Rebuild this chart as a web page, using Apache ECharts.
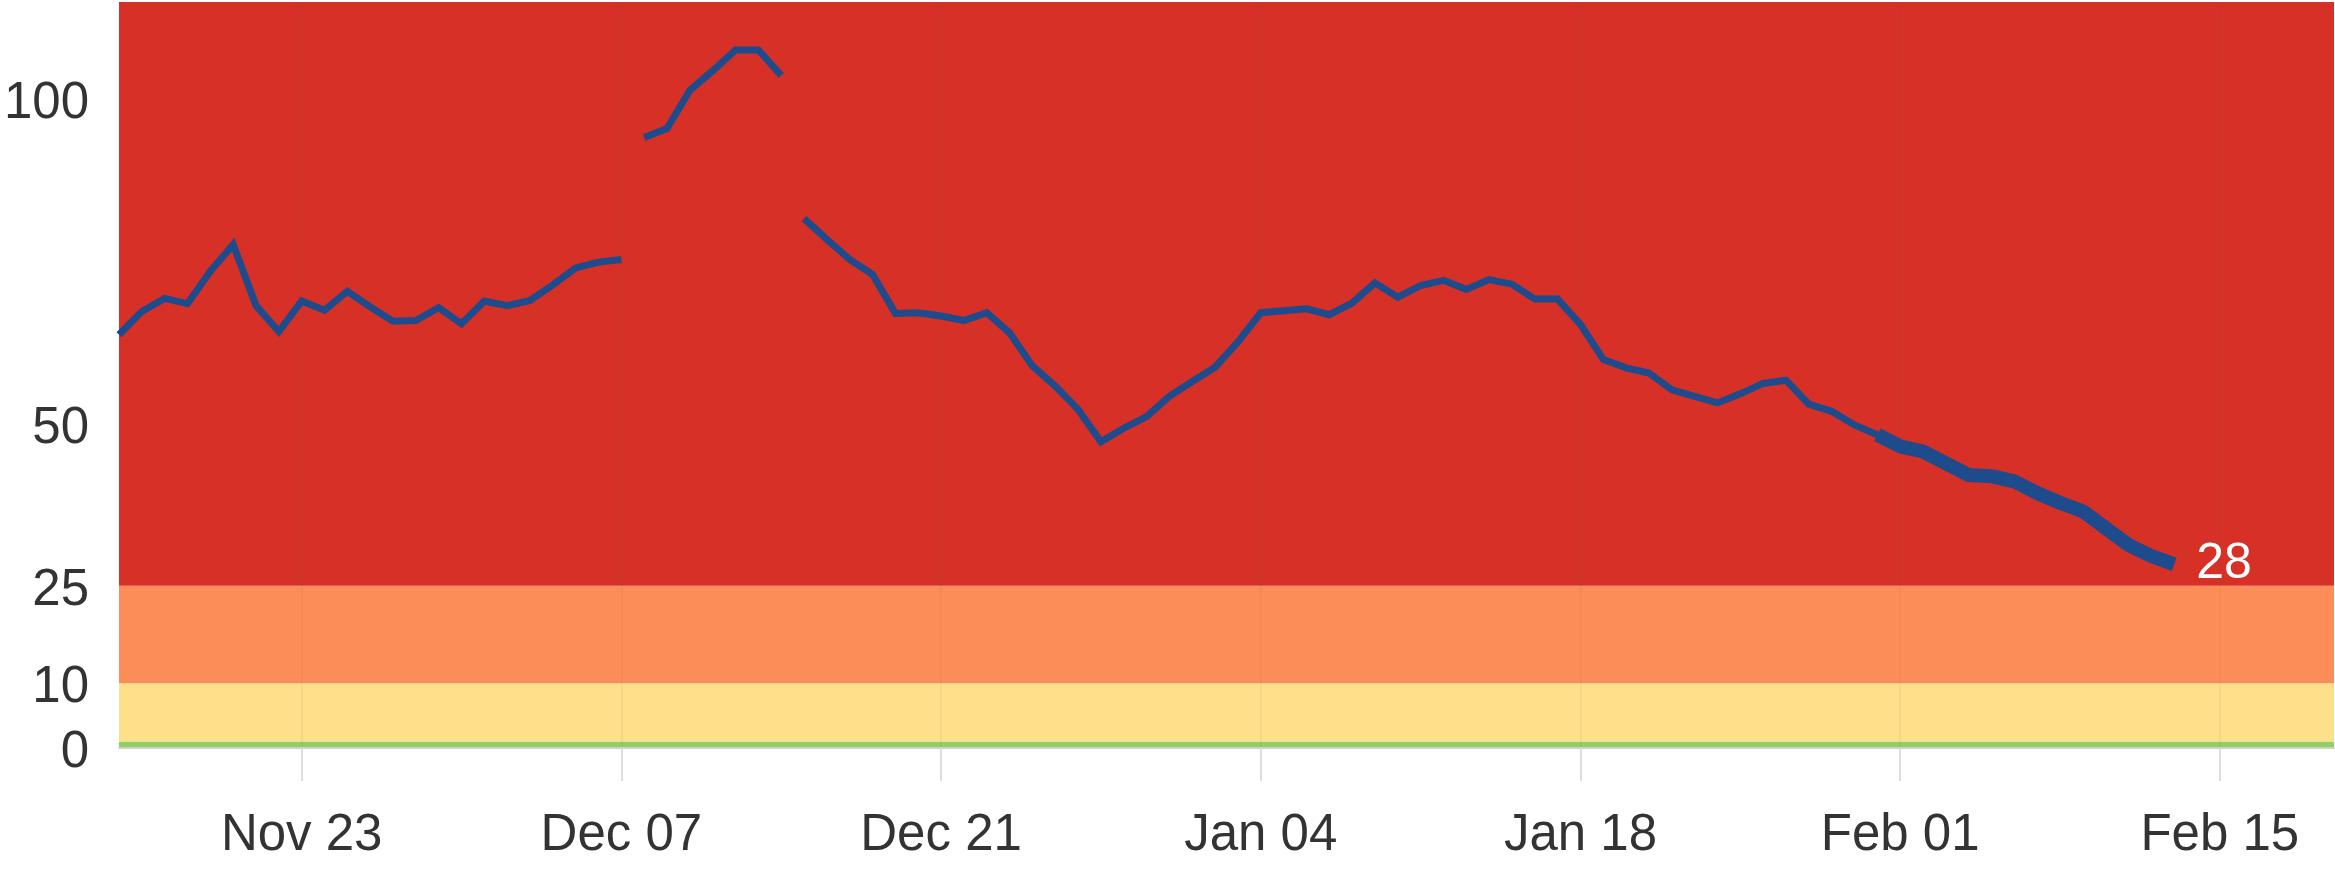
<!DOCTYPE html>
<html>
<head>
<meta charset="utf-8">
<script src="https://cdn.jsdelivr.net/npm/echarts@6/dist/echarts.min.js"></script>
<style>
  html, body { margin: 0; padding: 0; background: #fff; }
  #chart { width: 2335px; height: 876px; }
</style>
</head>
<body>
<div id="chart"></div>
<script>
// daily axis, Nov 15 -> Feb 20
var firstDay = Date.UTC(2020, 10, 15);
var lastDay = Date.UTC(2021, 1, 20);
var tickLabels = ['Nov 23', 'Dec 07', 'Dec 21', 'Jan 04', 'Jan 18', 'Feb 01', 'Feb 15'];
var yLabels = [0, 10, 25, 50, 100];

// risk bands (value edges and colours)
var bandEdges = [0, 1, 10, 25, 115];
var bandColors = ['#91cf60', '#fee08b', '#fc8d59', '#d73027'];

// line pieces: start date + daily values
var segA_start = 'Nov 15';
var segA = [63.7, 67.3, 69.3, 68.5, 73.5, 77.6, 68.2, 64.2, 68.9, 67.5, 70.4, 68.0, 65.8, 65.9, 67.9,
  65.4, 68.9, 68.2, 69.0, 71.4, 74.0, 74.9, 75.3];
var segB_start = 'Dec 08';
var segB = [94.1, 95.5, 101.4, 104.4, 107.6, 107.6, 103.7];
var segC_start = 'Dec 15';
var segC = [81.6, 78.4, 75.3, 73.0, 67.0, 67.1, 66.6, 65.9, 67.1, 64.0, 58.9, 55.8, 52.2, 47.2, 49.3,
  51.1, 54.2, 56.5, 58.7, 62.6, 67.1, 67.4, 67.7, 66.8, 68.6, 71.7, 69.5, 71.3, 72.1, 70.7, 72.2,
  71.5, 69.2, 69.2, 65.3, 59.9, 58.6, 57.8, 55.2, 54.2, 53.2, 54.6, 56.2, 56.7, 53.0, 51.9, 49.8, 48.3];
var segD_start = 'Jan 31';
var segD = [48.3, 46.5, 45.7, 43.9, 42.1, 41.9, 41.1, 39.3, 37.8, 36.5, 33.9, 31.3, 29.6, 28.3];

var months = ['Jan', 'Feb', 'Mar', 'Apr', 'May', 'Jun', 'Jul', 'Aug', 'Sep', 'Oct', 'Nov', 'Dec'];
var days = [];
for (var t = firstDay; t <= lastDay; t += 86400000) {
  var d = new Date(t);
  var dd = d.getUTCDate();
  days.push(months[d.getUTCMonth()] + ' ' + (dd < 10 ? '0' + dd : dd));
}

function place(start, values) {
  var out = [];
  var i0 = days.indexOf(start);
  for (var i = 0; i < i0; i++) out.push(null);
  return out.concat(values);
}

function isTick(i, v) {
  return tickLabels.indexOf(v) >= 0;
}

var lineColor = '#1e4b8c';
var font = 'Liberation Sans, Arial, sans-serif';

var bandAreas = [];
for (var b = 0; b < bandColors.length; b++) {
  bandAreas.push([{yAxis: bandEdges[b], itemStyle: {color: bandColors[b]}}, {yAxis: bandEdges[b + 1]}]);
}

var chart = echarts.init(document.getElementById('chart'));
chart.setOption({
  animation: false,
  backgroundColor: '#fff',
  grid: {left: 119, right: 1, top: 2, bottom: 128},
  xAxis: {
    type: 'category',
    data: days,
    boundaryGap: false,
    z: 2,
    axisLine: {lineStyle: {color: '#cfcfcf', width: 2}},
    axisTick: {show: true, length: 33, interval: isTick, lineStyle: {color: '#dddddd', width: 2}},
    splitLine: {show: true, interval: isTick, lineStyle: {color: 'rgba(110,80,60,0.07)', width: 2}},
    axisLabel: {interval: isTick, margin: 62, fontSize: 51, fontFamily: font, color: '#333'}
  },
  yAxis: {
    type: 'value',
    min: 0,
    max: 115,
    interval: 5,
    axisLine: {show: false},
    axisTick: {show: false},
    splitLine: {show: false},
    axisLabel: {
      margin: 30,
      verticalAlign: 'top',
      lineHeight: 10,
      fontSize: 51,
      fontFamily: font,
      color: '#333',
      formatter: function (v) { return yLabels.indexOf(v) >= 0 ? String(v) : ''; }
    }
  },
  series: [
    {
      type: 'line',
      z: 1,
      data: [],
      silent: true,
      markArea: {silent: true, data: bandAreas}
    },
    {
      type: 'line', z: 3, data: place(segA_start, segA), showSymbol: false,
      lineStyle: {color: lineColor, width: 7, join: 'miter'}
    },
    {
      type: 'line', z: 3, data: place(segB_start, segB), showSymbol: false,
      lineStyle: {color: lineColor, width: 7, join: 'miter'}
    },
    {
      type: 'line', z: 3, data: place(segC_start, segC), showSymbol: false,
      lineStyle: {color: lineColor, width: 7, join: 'miter'}
    },
    {
      type: 'line', z: 4, data: place(segD_start, segD), showSymbol: false,
      lineStyle: {color: lineColor, width: 14, join: 'round', cap: 'butt'},
      endLabel: {
        show: true,
        distance: 22,
        fontSize: 50,
        fontFamily: font,
        color: '#fff',
        formatter: function (p) { return Math.round(p.value); }
      }
    }
  ]
});
</script>
</body>
</html>
